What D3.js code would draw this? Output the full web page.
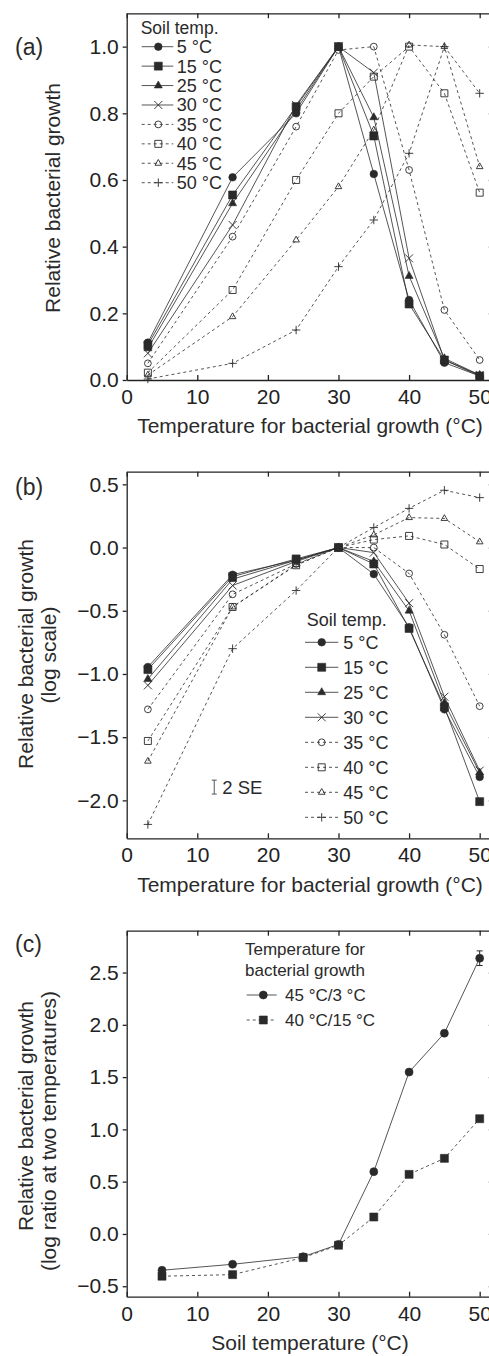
<!DOCTYPE html>
<html lang="en">
	<head>
		<meta charset="utf-8">
		<title>Relative bacterial growth</title>
		<script type="text/javascript" src="https://d3js.org/d3.v7.min.js"></script>
		<style type="text/css">
			body {
				margin: 0;
				background-color: #ffffff;
				font-family: "Liberation Sans", Arial, Helvetica, sans-serif;
			}
			.axis path, .axis line { stroke: #222; stroke-width: 1.3; }
			.axis text { font-family: "Liberation Sans", Arial, sans-serif; font-size: 21px; fill: #222; }
		</style>
	</head>
	<body>
		<script type="text/javascript">

			//Width and height
			var w = 489;
			var h = 1356;

			// Temperatures at which growth was measured (panels a and b)
			var growthTemps = [3, 15, 24, 30, 35, 40, 45, 50];
			var soilLabels = ["5 °C", "15 °C", "25 °C", "30 °C", "35 °C", "40 °C", "45 °C", "50 °C"];

			// (a) relative growth, one array per soil temperature
			var rel5  = [0.112, 0.608, 0.80, 1.0, 0.618, 0.24, 0.052, 0.012];
			var rel15 = [0.105, 0.555, 0.82, 1.0, 0.732, 0.228, 0.06, 0.012];
			var rel25 = [0.095, 0.53, 0.81, 1.0, 0.788, 0.312, 0.065, 0.015];
			var rel30 = [0.08, 0.465, 0.825, 1.0, 0.922, 0.365, 0.06, 0.015];
			var rel35 = [0.05, 0.43, 0.76, 0.99, 1.0, 0.63, 0.21, 0.06];
			var rel40 = [0.022, 0.27, 0.60, 0.80, 0.91, 1.0, 0.86, 0.562];
			var rel45 = [0.015, 0.19, 0.42, 0.58, 0.75, 1.005, 1.0, 0.64];
			var rel50 = [0.003, 0.05, 0.15, 0.34, 0.48, 0.68, 1.0, 0.86];

			// (b) relative growth, log scale
			var log5  = [-0.945, -0.215, -0.10, 0, -0.21, -0.63, -1.28, -1.815];
			var log15 = [-0.965, -0.23, -0.09, 0, -0.13, -0.64, -1.26, -2.01];
			var log25 = [-1.04, -0.25, -0.10, 0, -0.11, -0.50, -1.23, -1.78];
			var log30 = [-1.09, -0.30, -0.11, 0, -0.04, -0.44, -1.18, -1.765];
			var log35 = [-1.28, -0.37, -0.13, 0, 0.0, -0.205, -0.69, -1.255];
			var log40 = [-1.53, -0.47, -0.14, 0, 0.063, 0.092, 0.024, -0.17];
			var log45 = [-1.69, -0.47, -0.135, 0, 0.10, 0.237, 0.23, 0.045];
			var log50 = [-2.19, -0.80, -0.34, 0, 0.158, 0.31, 0.453, 0.395];

			// 2 SE indicator in (b)
			var seMarkX = 12.4;
			var seMarkY = [-1.95, -1.84];

			// (c) log ratio at two temperatures vs soil temperature
			var soilTemps = [5, 15, 25, 30, 35, 40, 45, 50];
			var ratio45to3 = [-0.347, -0.29, -0.217, -0.10, 0.596, 1.548, 1.92, 2.637];
			var ratio40to15 = [-0.404, -0.389, -0.226, -0.108, 0.162, 0.57, 0.723, 1.102];
			var ratio45to3SE = [0, 0, 0, 0, 0, 0, 0, 0.07];
			var ratioLabels = ["45 °C/3 °C", "40 °C/15 °C"];

			// y tick values
			var ticksA = [0, 0.2, 0.4, 0.6, 0.8, 1.0];
			var ticksB = [-2, -1.5, -1, -0.5, 0, 0.5];
			var ticksC = [-0.5, 0, 0.5, 1, 1.5, 2, 2.5];
			var ticksX = [0, 10, 20, 30, 40, 50];

			var ink = "#2a2a2a";

			//Create SVG element
			var svg = d3.select("body")
				.append("svg")
				.attr("width", w)
				.attr("height", h);

			svg.append("rect").attr("width", w).attr("height", h).attr("fill", "#fff");

			// shared x scale (frame runs past the right edge of the picture)
			var x = d3.scaleLinear()
				.domain([0, 52])
				.range([126.7, 493.8]);

			// marker shapes, drawn around 0,0
			function markerPath(type, s) {
				if (type == "circle") return "M" + s + ",0A" + s + "," + s + " 0 1,1 " + (-s) + ",0A" + s + "," + s + " 0 1,1 " + s + ",0Z";
				if (type == "square") return "M" + (-s) + "," + (-s) + "h" + (2 * s) + "v" + (2 * s) + "h" + (-2 * s) + "Z";
				if (type == "triangle") return "M0," + (-s * 1.15) + "L" + s + "," + (s * 0.6) + "L" + (-s) + "," + (s * 0.6) + "Z";
				if (type == "plus") return "M" + (-s) + ",0H" + s + "M0," + (-s) + "V" + s;
				if (type == "times") return "M" + (-s) + "," + (-s) + "L" + s + "," + s + "M" + (-s) + "," + s + "L" + s + "," + (-s);
			}

			var styles = [
				{ shape: "circle", size: 3.8, filled: true, dashed: false },
				{ shape: "square", size: 4, filled: true, dashed: false },
				{ shape: "triangle", size: 4, filled: true, dashed: false },
				{ shape: "times", size: 4, filled: false, dashed: false },
				{ shape: "circle", size: 3.4, filled: false, dashed: true },
				{ shape: "square", size: 3.5, filled: false, dashed: true },
				{ shape: "triangle", size: 3.3, filled: false, dashed: true },
				{ shape: "plus", size: 4.2, filled: false, dashed: true }
			];

			function drawMarker(g, st, px, py) {
				g.append("path")
					.attr("d", markerPath(st.shape, st.size))
					.attr("transform", "translate(" + px + "," + py + ")")
					.attr("fill", st.filled ? ink : "none")
					.attr("stroke", ink)
					.attr("stroke-width", st.filled ? 0.6 : 0.9);
			}

			function drawFrame(y, yTicks) {
				var g = svg.append("g");
				var x0 = x.range()[0], x1 = x.range()[1];
				var y0 = y.range()[0], y1 = y.range()[1];

				g.append("g").attr("class", "axis")
					.attr("transform", "translate(0," + y0 + ")")
					.call(d3.axisBottom(x).tickValues(ticksX).tickSizeInner(-5).tickSizeOuter(0).tickPadding(9).tickFormat(d3.format("d")));
				g.append("g").attr("class", "axis")
					.attr("transform", "translate(0," + y1 + ")")
					.call(d3.axisTop(x).tickValues(ticksX).tickSizeInner(-5).tickSizeOuter(0).tickFormat(""));
				g.append("g").attr("class", "axis")
					.attr("transform", "translate(" + x0 + ",0)")
					.call(d3.axisLeft(y).tickValues(yTicks).tickSizeInner(4).tickSizeOuter(0).tickPadding(4).tickFormat(d3.format(".1f")));
				g.append("g").attr("class", "axis")
					.attr("transform", "translate(" + x1 + ",0)")
					.call(d3.axisRight(y).tickValues(yTicks).tickSizeInner(-5).tickSizeOuter(0).tickFormat(""));
				return g;
			}

			function drawSeries(xs, seriesList, y) {
				var g = svg.append("g");
				var line = d3.line()
					.x(function(d) { return x(d[0]); })
					.y(function(d) { return y(d[1]); });
				seriesList.forEach(function(vals, i) {
					var pts = xs.map(function(t, j) { return [t, vals[j]]; });
					g.append("path")
						.datum(pts)
						.attr("d", line)
						.attr("fill", "none")
						.attr("stroke", ink)
						.attr("stroke-width", 0.8)
						.attr("stroke-dasharray", styles[i].dashed ? "3,3" : null);
				});
				for (var i = seriesList.length - 1; i >= 0; i--) {
					var vals = seriesList[i];
					xs.forEach(function(t, j) { drawMarker(g, styles[i], x(t), y(vals[j])); });
				}
			}

			function drawLegend(ly, step, x0, xm, x1, xt, labels, sty, fontSize) {
				var g = svg.append("g");
				labels.forEach(function(lab, i) {
					var yy = ly + i * step;
					g.append("line")
						.attr("x1", x0).attr("x2", x1)
						.attr("y1", yy).attr("y2", yy)
						.attr("stroke", ink).attr("stroke-width", 0.8)
						.attr("stroke-dasharray", sty[i].dashed ? "3,3" : null);
					drawMarker(g, sty[i], xm, yy);
					g.append("text")
						.attr("x", xt).attr("y", yy).attr("dy", "0.36em")
						.attr("font-size", fontSize + "px").attr("fill", ink)
						.text(lab);
				});
			}

			function addText(tx, ty, str, size, opts) {
				opts = opts || {};
				return svg.append("text")
					.attr("x", tx).attr("y", ty)
					.attr("font-size", size + "px")
					.attr("fill", ink)
					.attr("text-anchor", opts.anchor || "start")
					.attr("transform", opts.rotate ? "rotate(-90," + tx + "," + ty + ")" : null)
					.text(str);
			}

			// ---------- panel (a) ----------
			var yA = d3.scaleLinear().domain([0, 1.1]).range([380, 13.3]);
			drawFrame(yA, ticksA);
			drawSeries(growthTemps, [rel5, rel15, rel25, rel30, rel35, rel40, rel45, rel50], yA);
			addText(140.7, 34, "Soil temp.", 17.5);
			drawLegend(46.7, 19.43, 141.7, 158.3, 173.3, 176.7, soilLabels, styles, 18);
			addText(15, 55, "(a)", 23);
			addText(60, 198, "Relative bacterial growth", 21, { anchor: "middle", rotate: true });
			addText(310, 432.5, "Temperature for bacterial growth (°C)", 21, { anchor: "middle" });

			// ---------- panel (b) ----------
			var yB = d3.scaleLinear().domain([-2.3, 0.6]).range([838.3, 471.7]);
			drawFrame(yB, ticksB);
			drawSeries(growthTemps, [log5, log15, log25, log30, log35, log40, log45, log50], yB);
			addText(306.7, 626, "Soil temp.", 18);
			drawLegend(642.3, 25, 305, 321.7, 338.3, 343.3, soilLabels, styles, 18);
			addText(15, 495, "(b)", 23);
			addText(33, 654, "Relative bacterial growth", 21, { anchor: "middle", rotate: true });
			addText(56, 655, "(log scale)", 21, { anchor: "middle", rotate: true });
			addText(310, 892, "Temperature for bacterial growth (°C)", 21, { anchor: "middle" });

			// 2 SE bar
			var seG = svg.append("g").attr("stroke", "#555").attr("stroke-width", 1);
			seG.append("line").attr("x1", x(seMarkX)).attr("x2", x(seMarkX)).attr("y1", yB(seMarkY[0])).attr("y2", yB(seMarkY[1]));
			seG.append("line").attr("x1", x(seMarkX) - 2.5).attr("x2", x(seMarkX) + 2.5).attr("y1", yB(seMarkY[0])).attr("y2", yB(seMarkY[0]));
			seG.append("line").attr("x1", x(seMarkX) - 2.5).attr("x2", x(seMarkX) + 2.5).attr("y1", yB(seMarkY[1])).attr("y2", yB(seMarkY[1]));
			addText(x(seMarkX) + 8, yB((seMarkY[0] + seMarkY[1]) / 2) + 7, "2 SE", 18.5);

			// ---------- panel (c) ----------
			var yC = d3.scaleLinear().domain([-0.6, 2.9]).range([1296.7, 930.7]);
			drawFrame(yC, ticksC);
			var stylesC = [
				{ shape: "circle", size: 4, filled: true, dashed: false },
				{ shape: "square", size: 4, filled: true, dashed: true }
			];
			var gC = svg.append("g");
			var lineC = d3.line()
				.x(function(d) { return x(d[0]); })
				.y(function(d) { return yC(d[1]); });
			[ratio45to3, ratio40to15].forEach(function(vals, i) {
				gC.append("path")
					.datum(soilTemps.map(function(t, j) { return [t, vals[j]]; }))
					.attr("d", lineC)
					.attr("fill", "none")
					.attr("stroke", ink)
					.attr("stroke-width", 0.8)
					.attr("stroke-dasharray", stylesC[i].dashed ? "3,3" : null);
			});
			// error bars
			soilTemps.forEach(function(t, j) {
				var e = ratio45to3SE[j];
				if (!e) return;
				var cx = x(t), ya = yC(ratio45to3[j] - e), yb = yC(ratio45to3[j] + e);
				gC.append("path")
					.attr("d", "M" + cx + "," + ya + "V" + yb + "M" + (cx - 3) + "," + ya + "H" + (cx + 3) + "M" + (cx - 3) + "," + yb + "H" + (cx + 3))
					.attr("stroke", ink).attr("stroke-width", 1).attr("fill", "none");
			});
			soilTemps.forEach(function(t, j) { drawMarker(gC, stylesC[1], x(t), yC(ratio40to15[j])); });
			soilTemps.forEach(function(t, j) { drawMarker(gC, stylesC[0], x(t), yC(ratio45to3[j])); });

			addText(245, 955, "Temperature for", 17);
			addText(245, 976, "bacterial growth", 17);
			drawLegend(995, 25, 246.7, 263.3, 276.7, 285, ratioLabels, stylesC, 17);
			addText(15, 951.5, "(c)", 23);
			addText(33, 1116, "Relative bacterial growth", 21, { anchor: "middle", rotate: true });
			addText(56, 1131, "(log ratio at two temperatures)", 21, { anchor: "middle", rotate: true });
			addText(310, 1350, "Soil temperature (°C)", 21, { anchor: "middle" });

		</script>
	</body>
</html>
